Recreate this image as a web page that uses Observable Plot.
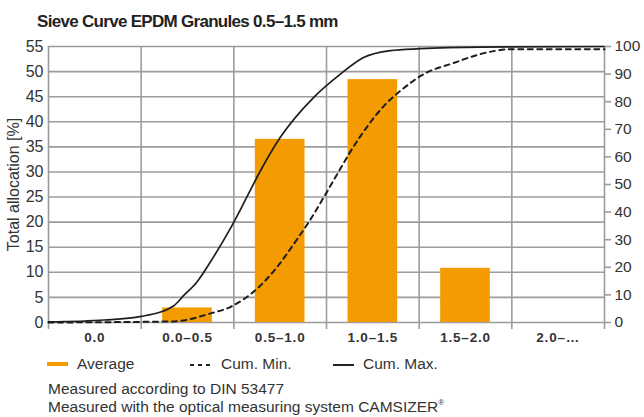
<!DOCTYPE html>
<html>
<head>
<meta charset="utf-8">
<script src="https://cdn.jsdelivr.net/npm/d3@7"></script>
<script src="https://cdn.jsdelivr.net/npm/@observablehq/plot@0.6"></script>
<style>
  body { margin: 0; background: #fff; font-family: "Liberation Sans", Arial, Helvetica, sans-serif; color: #333; }
  #wrap { position: relative; width: 644px; height: 417px; overflow: hidden; background: #fff; }
  #chart { position: absolute; left: 0; top: 0; }
  #title { position: absolute; left: 37px; top: 12px; font-weight: bold; font-size: 17px; letter-spacing: -0.7px; color: #222; white-space: nowrap; }
  .leg { position: absolute; top: 355px; font-size: 15.5px; color: #333; white-space: nowrap; display: flex; align-items: center; }
  .leg svg { margin-right: 8px; }
  .cap { position: absolute; left: 48px; font-size: 15.5px; color: #333; white-space: nowrap; }
  sup { font-size: 8px; vertical-align: 7px; }
</style>
</head>
<body>
<div id="wrap">
  <div id="title">Sieve Curve EPDM Granules 0.5–1.5 mm</div>
  <div id="chart"></div>
  <div class="leg" style="left:47px"><svg width="22" height="8"><rect x="0" y="2" width="21" height="4" fill="#f39b00"/></svg>Average</div>
  <div class="leg" style="left:189px"><svg width="24" height="8"><line x1="1" y1="5" x2="23" y2="5" stroke="#222" stroke-width="2" stroke-dasharray="4,4"/></svg>Cum. Min.</div>
  <div class="leg" style="left:333px"><svg width="22" height="8"><line x1="0" y1="5" x2="21" y2="5" stroke="#222" stroke-width="2"/></svg>Cum. Max.</div>
  <div class="cap" style="top:380px">Measured according to DIN 53477</div>
  <div class="cap" style="top:398px">Measured with the optical measuring system CAMSIZER<sup>®</sup></div>
</div>
<script>
// Categories (sieve fractions in mm)
const categories = ["0.0", "0.0–0.5", "0.5–1.0", "1.0–1.5", "1.5–2.0", "2.0–…"];
// Average allocation per fraction [%] (left axis)
const average = [0, 2.9, 36.5, 48.4, 10.8, 0];

// Cumulative curves (right axis, %); position measured in category units along the x axis
const cumMaxPos = [0, 0.6, 1.0, 1.35, 1.46, 1.60, 1.78, 1.96, 2.14, 2.27, 2.50, 2.86, 3.15, 3.40, 3.69, 4.01, 4.66, 6];
const cumMaxPct = [0.2, 0.9, 2.2, 6.0, 9.8, 14.6, 23.7, 33.9, 45.4, 53.9, 67, 81.5, 90, 96, 98.5, 99.2, 99.8, 100];

const cumMinPos = [0, 1.35, 1.75, 1.96, 2.26, 2.44, 2.70, 2.83, 2.99, 3.12, 3.26, 3.44, 3.62, 3.80, 4.05, 4.37, 4.69, 4.99, 6];
const cumMinPct = [0, 0.4, 3.3, 5.6, 12.5, 19.0, 31, 37.5, 46.5, 54, 62, 71, 78.5, 84, 90, 94, 97.5, 99, 99];

// Tick labels
const leftTicks = d3.range(0, 56, 5);
const rightTicks = d3.range(0, 101, 10);

const leftMax = 55;
const k = leftMax / 100; // right-axis % -> left-axis units

const bars = average.map((v, i) => ({i, v}));
const maxLine = cumMaxPos.map((x, j) => ({x, y: cumMaxPct[j] * k}));
const minLine = cumMinPos.map((x, j) => ({x, y: cumMinPct[j] * k}));

const grid = "#9c9c9c";

const chart = Plot.plot({
  width: 644,
  height: 417,
  marginTop: 46,
  marginBottom: 95,
  marginLeft: 48,
  marginRight: 40,
  style: { fontFamily: "'Liberation Sans', Arial, sans-serif", color: "#333", background: "transparent" },
  x: { type: "linear", domain: [0, categories.length] },
  y: { domain: [0, leftMax] },
  marks: [
    Plot.ruleY(leftTicks, { stroke: grid, strokeWidth: 1.6 }),
    Plot.ruleX(d3.range(0, categories.length + 1), { stroke: grid, strokeWidth: 1.6, insetBottom: -7 }),
    Plot.rectY(bars, { x1: "i", x2: d => d.i + 1, y: "v", fill: "#f39b00", insetLeft: 21.5, insetRight: 21.5 }),
    Plot.line(minLine, { x: "x", y: "y", curve: "monotone-x", stroke: "#1e1e1e", strokeWidth: 2, strokeDasharray: "5,4.5" }),
    Plot.line(maxLine, { x: "x", y: "y", curve: "monotone-x", stroke: "#1e1e1e", strokeWidth: 1.7 }),
    Plot.axisY({ anchor: "left", ticks: leftTicks, tickSize: 0, tickPadding: 5, fontSize: 16,
      label: "Total allocation [%]", labelAnchor: "center", labelArrow: "none", labelOffset: 41 }),
    Plot.axisY({ anchor: "right", ticks: rightTicks.map(v => v * k), tickFormat: d => String(Math.round(d / k)),
      tickSize: 6, tickPadding: 4, fontSize: 15.5, stroke: grid, strokeWidth: 1.6, label: null }),
    Plot.axisX({ ticks: categories.map((c, i) => i + 0.5), tickFormat: d => categories[Math.floor(d)],
      tickSize: 0, tickPadding: 10, fontSize: 13.5, fontWeight: "bold", label: null })
  ]
});
chart.querySelectorAll("g[aria-label='x-axis tick label'] text").forEach(t => {
  t.style.letterSpacing = "0.8px";
});
document.getElementById("chart").appendChild(chart);
</script>
</body>
</html>
